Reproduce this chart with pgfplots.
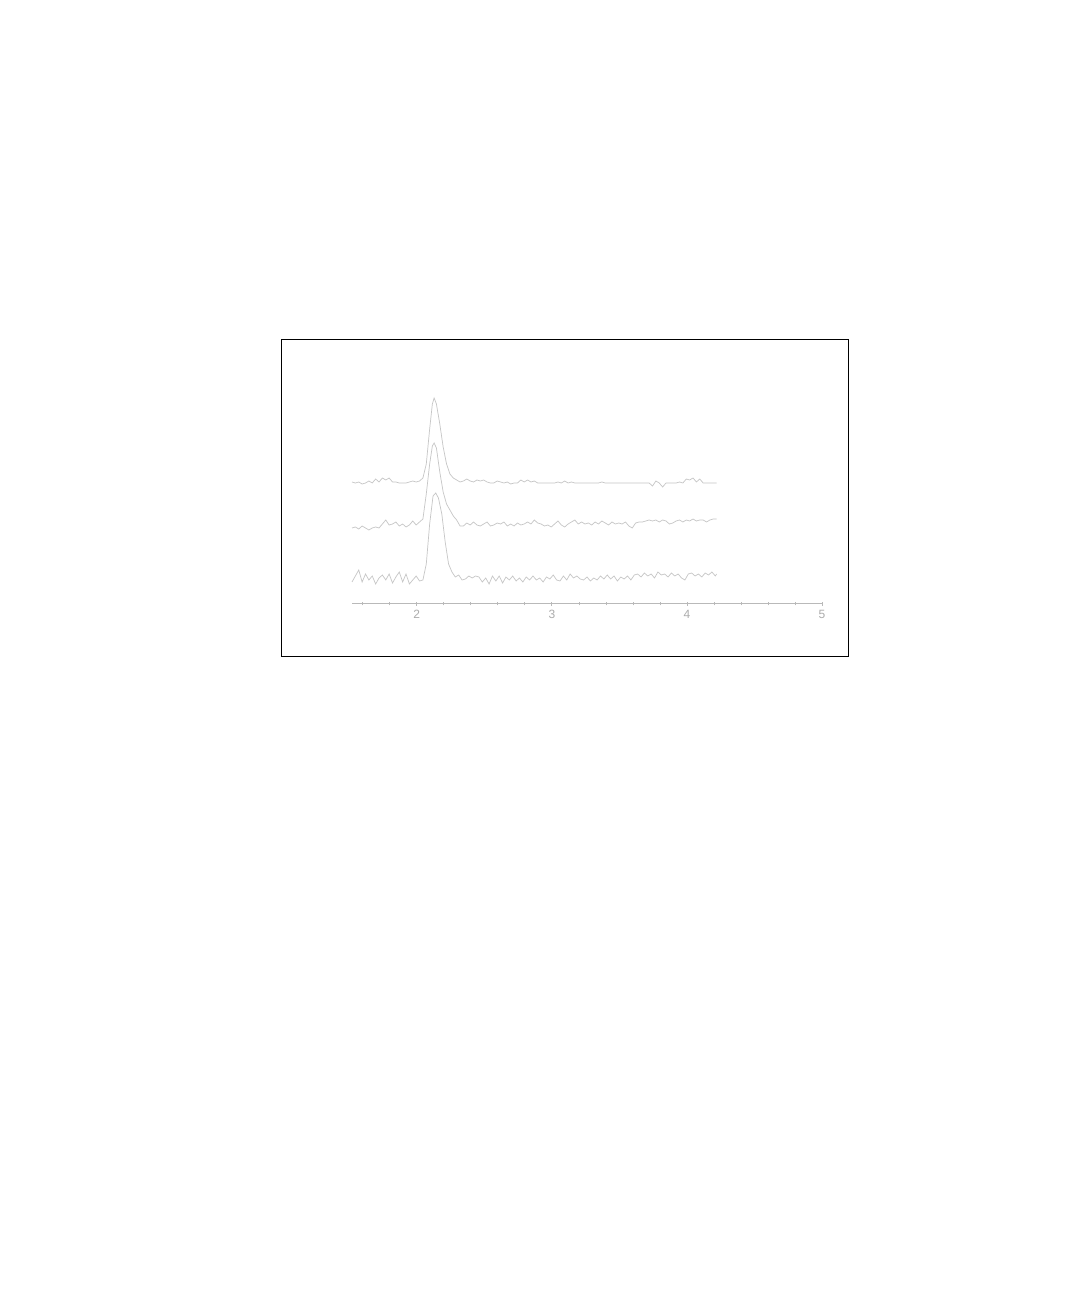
\documentclass[border=0pt]{standalone}
\usepackage{pgfplots}
\pgfplotsset{compat=1.18}
\usepackage{pgfplotstable}
\usepackage{fontspec}
\setmainfont{Liberation Sans}

\pgfplotstableread{
x y
1.52 122
1.545 121
1.57 122
1.595 120
1.62 121
1.645 123
1.67 121
1.695 125
1.72 122
1.745 126
1.77 124
1.795 126
1.82 122
1.845 122
1.87 121
1.895 121
1.92 121
1.945 122
1.97 123
1.995 122
2.02 123
2.045 126
2.07 140
2.095 175
2.115 200
2.128 206
2.145 200
2.17 180
2.195 157
2.22 140
2.245 130
2.27 126
2.295 124
2.32 122
2.345 123
2.37 125
2.395 123
2.42 122
2.445 124
2.47 123
2.495 124
2.52 122
2.545 121
2.57 121
2.595 123
2.62 122
2.645 121
2.67 122
2.695 120
2.72 121
2.745 121
2.77 124
2.795 122
2.82 124
2.845 122
2.87 123
2.895 121
2.92 121
2.945 121
2.97 121
2.995 121
3.02 121
3.045 122
3.07 121
3.095 123
3.12 121
3.145 122
3.17 121
3.195 121
3.22 121
3.245 121
3.27 121
3.295 121
3.32 121
3.345 121
3.37 122
3.395 121
3.42 121
3.445 121
3.47 121
3.495 121
3.52 121
3.545 121
3.57 121
3.595 121
3.62 121
3.645 121
3.67 121
3.695 121
3.72 121
3.745 118
3.77 123
3.795 121
3.82 117
3.845 121
3.87 121
3.895 121
3.92 121
3.945 122
3.97 121
3.995 125
4.02 124
4.045 126
4.07 122
4.095 125
4.12 121
4.145 121
4.17 121
4.195 121
4.22 121
}\toptrace

\pgfplotstableread{
x y
1.52 76
1.545 77
1.57 75
1.595 78
1.62 76
1.645 74
1.67 76
1.695 77
1.72 76
1.745 80
1.77 84
1.795 79
1.82 80
1.845 82
1.87 78
1.895 80
1.92 77
1.945 79
1.97 83
1.995 79
2.02 82
2.045 85
2.07 110
2.095 140
2.115 158
2.128 161
2.145 156
2.17 132
2.195 112
2.22 100
2.245 94
2.27 88
2.295 84
2.32 78
2.345 78
2.37 81
2.395 79
2.42 82
2.445 79
2.47 78
2.495 80
2.52 82
2.545 78
2.57 79
2.595 81
2.62 80
2.645 82
2.67 78
2.695 80
2.72 78
2.745 81
2.77 79
2.795 80
2.82 82
2.845 80
2.87 84
2.895 81
2.92 80
2.945 78
2.97 79
2.995 77
3.02 80
3.045 83
3.07 79
3.095 77
3.12 80
3.145 82
3.17 84
3.195 80
3.22 82
3.245 80
3.27 81
3.295 79
3.32 82
3.345 80
3.37 83
3.395 81
3.42 79
3.445 82
3.47 80
3.495 81
3.52 80
3.545 82
3.57 78
3.595 76
3.62 81
3.645 82
3.67 82
3.695 83
3.72 84
3.745 83
3.77 84
3.795 82
3.82 84
3.845 83
3.87 80
3.895 81
3.92 83
3.945 84
3.97 82
3.995 84
4.02 83
4.045 85
4.07 83
4.095 84
4.12 84
4.145 82
4.17 84
4.195 85
4.22 85
}\midtrace

\pgfplotstableread{
x y
1.52 22
1.545 28
1.57 34
1.595 22
1.62 30
1.645 24
1.67 28
1.695 20
1.72 26
1.745 29
1.77 24
1.795 30
1.82 21
1.845 27
1.87 32
1.895 22
1.92 30
1.945 20
1.97 24
1.995 28
2.02 23
2.045 24
2.07 40
2.095 80
2.12 108
2.14 111
2.16 106
2.185 90
2.21 62
2.235 40
2.26 32
2.285 27
2.31 29
2.335 24
2.36 25
2.385 28
2.41 26
2.435 28
2.46 27
2.485 22
2.51 26
2.535 20
2.56 28
2.585 23
2.61 28
2.635 21
2.66 27
2.685 24
2.71 28
2.735 23
2.76 26
2.785 22
2.81 27
2.835 24
2.86 28
2.885 24
2.91 26
2.935 22
2.96 27
2.985 25
3.01 29
3.035 24
3.06 23
3.085 28
3.11 24
3.135 30
3.16 26
3.185 28
3.21 25
3.235 24
3.26 27
3.285 23
3.31 26
3.335 24
3.36 28
3.385 25
3.41 29
3.435 25
3.46 28
3.485 23
3.51 27
3.535 25
3.56 28
3.585 24
3.61 29
3.635 30
3.66 27
3.685 31
3.71 28
3.735 30
3.76 26
3.785 32
3.81 29
3.835 30
3.86 27
3.885 31
3.91 28
3.935 30
3.96 26
3.985 24
4.01 30
4.035 31
4.06 28
4.085 30
4.11 27
4.135 31
4.16 29
4.185 32
4.21 28
4.22 30
}\bottrace

\begin{document}
\begin{tikzpicture}
\useasboundingbox[fill=white] (0,0) rectangle (540pt,649pt);
\draw[black, line width=0.5pt] (140.5pt,320.5pt) rectangle (424pt,479pt);
\begin{axis}[
  at={(176pt,347pt)}, anchor=south west,
  scale only axis, width=235pt, height=112pt,
  xmin=1.52, xmax=5, ymin=0, ymax=224,
  axis x line*=bottom, axis y line=none,
  axis line style={gray!55, line width=0.5pt},
  xtick={2,3,4,5},
  minor xtick={1.6,1.8,2.2,2.4,2.6,2.8,3.2,3.4,3.6,3.8,4.2,4.4,4.6,4.8},
  tick align=center,
  major tick length=2pt, minor tick length=1.5pt,
  tick style={gray!55, line width=0.4pt},
  /pgf/number format/assume math mode=true,
  xticklabel style={font=\fontsize{6}{7}\selectfont, text=gray!65, inner sep=1pt, yshift=-1pt},
  clip=false,
]
\addplot[gray!45, line width=0.35pt] table {\toptrace};
\addplot[gray!45, line width=0.35pt] table {\midtrace};
\addplot[gray!45, line width=0.35pt] table {\bottrace};
\end{axis}
\end{tikzpicture}
\end{document}
